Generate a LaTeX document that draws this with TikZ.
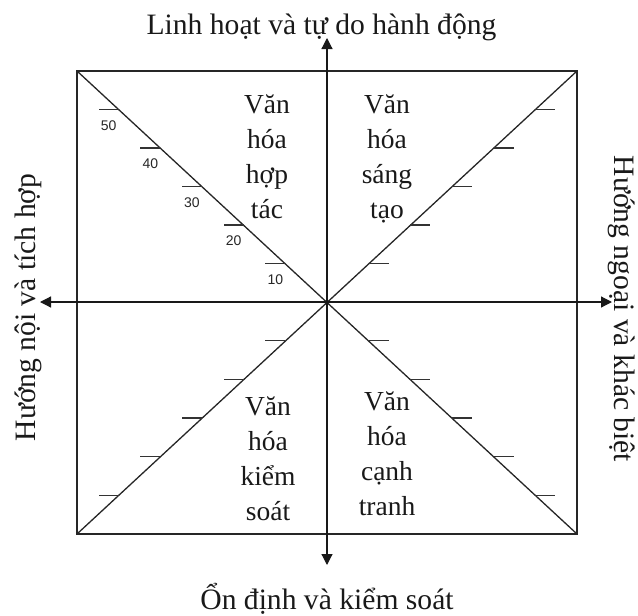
\documentclass[tikz,border=0pt]{standalone}
\usepackage{fontspec}
\setmainfont{Liberation Serif}
\newfontfamily\numfont{Liberation Sans}
\usetikzlibrary{arrows.meta,calc}
\begin{document}
\begin{tikzpicture}[x=1pt,y=-1pt,
  frame/.style={line width=1.3pt,draw=black!85},
  axis/.style={line width=1.2pt,draw=black!90,{Triangle[width=11pt,length=11pt]}-{Triangle[width=11pt,length=11pt]}},
  tickmark/.style={line width=1.1pt,draw=black!80},
  quad/.style={font=\fontsize{27.5}{35}\selectfont,align=center,anchor=north,inner sep=0pt,text=black!90},
  axlabel/.style={font=\fontsize{29.6}{34}\selectfont,inner sep=0pt,text=black!90},
  num/.style={font=\numfont\fontsize{14}{16}\selectfont,inner sep=0pt,text=black!85}]
\useasboundingbox (0,0) rectangle (638,616);
\coordinate (C) at (327,302);
\coordinate (TL) at (77,71);
\coordinate (TR) at (577,71);
\coordinate (BL) at (77,534);
\coordinate (BR) at (577,534);
\coordinate (L) at (40,302);
\coordinate (R) at (612,302);
\coordinate (T) at (327,38);
\coordinate (B) at (327,565);
% frame and diagonals
\draw[frame] (TL) rectangle (BR);
\draw[frame] (TL) -- (BR);
\draw[frame] (TR) -- (BL);
% axes
\draw[axis] (L) -- (R);
\draw[axis] (T) -- (B);
% ticks
\foreach \k in {1,...,5}{
  \coordinate (ul\k) at ($(C)!\k/6!(TL)$);
  \coordinate (ur\k) at ($(C)!\k/6!(TR)$);
  \coordinate (ll\k) at ($(C)!\k/6!(BL)$);
  \coordinate (lr\k) at ($(C)!\k/6!(BR)$);
  \draw[tickmark] (ul\k) -- ++(-20,0);
  \draw[tickmark] (ur\k) -- ++(20,0);
  \draw[tickmark] (ll\k) -- ++(-20,0);
  \draw[tickmark] (lr\k) -- ++(20,0);
  \node[num] (n\k) at ($(ul\k)+(-10,16)$) {\k0};
}
% quadrant labels
\node[quad] (q1) at (267,95) {Văn\\hóa\\hợp\\tác};
\node[quad] (q2) at (387,95) {Văn\\hóa\\sáng\\tạo};
\node[quad] (q3) at (268,397) {Văn\\hóa\\kiểm\\soát};
\node[quad] (q4) at (387,392) {Văn\\hóa\\cạnh\\tranh};
% axis labels
\node[axlabel,anchor=base] (lt) at (321.5,34) {Linh hoạt và tự do hành động};
\node[axlabel,anchor=base] (lb) at (327,609) {Ổn định và kiểm soát};
\node[axlabel,rotate=90] (ll) at (28,307.5) {Hướng nội và tích hợp};
\node[axlabel,rotate=-90] (lrr) at (622,309) {Hướng ngoại và khác biệt};
\end{tikzpicture}
\end{document}
